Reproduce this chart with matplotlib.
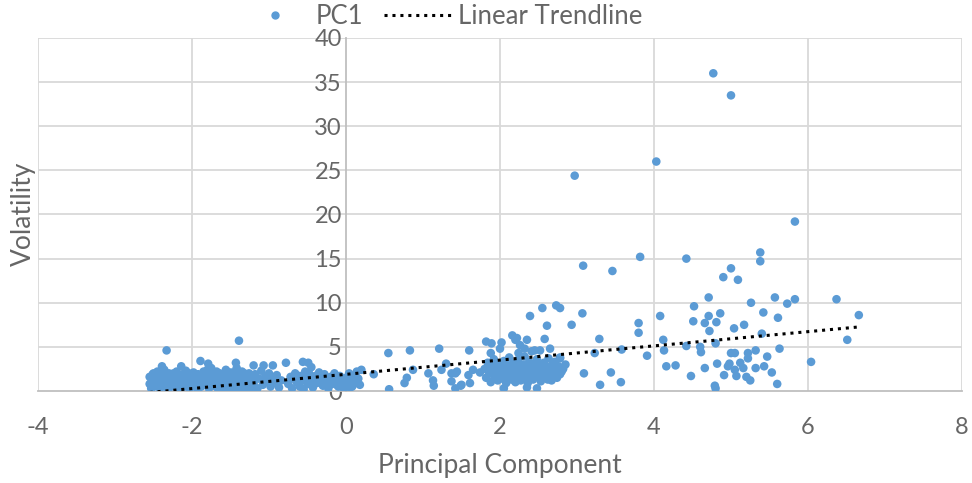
import numpy as np
import matplotlib
matplotlib.use("Agg")
import matplotlib.pyplot as plt
from matplotlib.lines import Line2D

# ---- data (principal component, volatility) ----
left_pts = [(-2.55,1.6),(-2.55,0.8),(-2.52,1.2),(-2.5,2.0),(-2.5,0.5),(-2.48,1.5),(-2.45,1.0),(-2.45,2.2),
    (-2.42,0.3),(-2.4,1.8),(-2.4,1.3),(-2.38,0.7),(-2.36,2.4),(-2.35,1.0),(-2.33,1.6),(-2.32,0.2),(-2.3,2.0),
    (-2.3,1.2),(-2.28,0.6),(-2.26,1.8),(-2.25,1.4),(-2.22,0.9),(-2.2,2.2),(-2.2,0.4),(-2.18,1.6),(-2.16,1.1),
    (-2.15,0.2),(-2.12,1.9),(-2.1,0.7),(-2.1,1.4),(-2.08,2.3),(-2.05,1.0),(-2.03,0.3),(-2.02,1.7),(-2.0,1.3),
    (-1.98,2.1),(-1.97,0.6),(-1.95,1.5),(-1.93,0.2),(-1.92,1.9),(-1.9,1.1),
    (-2.33,4.6),(-2.39,2.8),(-2.14,2.8),(-1.89,3.4),(-1.79,3.1),(-1.75,2.6),(-1.43,3.2),(-1.39,5.7),
    (-1.88,0.5),(-1.86,1.6),(-1.85,2.2),(-1.83,0.9),(-1.8,1.4),(-1.8,2.4),(-1.78,0.3),(-1.76,1.9),(-1.74,1.1),
    (-1.72,0.6),(-1.7,1.7),(-1.68,2.2),(-1.66,0.2),(-1.65,1.3),(-1.63,0.8),(-1.6,1.9),(-1.6,0.4),(-1.58,1.5),
    (-1.56,2.4),(-1.55,1.0),(-1.53,0.2),(-1.52,1.8),(-1.5,1.2),(-1.48,0.6),(-1.47,2.1),(-1.45,1.5),(-1.44,0.3),
    (-1.42,2.6),(-1.4,1.0),(-1.38,1.8),(-1.36,0.5),(-1.35,2.2),(-1.33,1.3),(-1.31,0.2),(-1.3,1.7),(-1.28,0.8),
    (-1.26,2.0),(-1.25,1.2),(-1.23,0.4),(-1.22,1.6),(-1.2,2.9),(-1.07,2.9),(-0.95,2.9),
    (-1.2,0.9),(-1.18,1.9),(-1.15,0.3),(-1.13,1.4),(-1.1,2.3),(-1.08,0.7),(-1.05,1.6),(-1.03,1.1),(-1.0,2.0),
    (-0.98,0.5),(-0.96,1.4),(-0.93,0.9),(-0.9,1.8),(-0.87,0.4),(-0.84,1.2)]

left_fill_pts = [(-2.53,0.3),(-2.51,1.9),(-2.47,0.9),(-2.44,1.6),(-2.41,0.5),(-2.37,1.2),(-2.34,2.0),
    (-2.29,0.4),(-2.27,1.0),(-2.24,2.0),(-2.21,1.3),(-2.17,0.7),(-2.14,1.8),(-2.11,1.0),(-2.07,0.5),
    (-2.04,2.0),(-2.01,0.9),(-1.96,1.8),(-1.94,1.0),(-1.91,0.4),(-1.87,1.3),(-1.84,1.9),(-1.81,0.7),
    (-1.77,1.5),(-1.73,2.0),(-1.69,0.9),(-1.67,1.5),(-1.64,2.0),(-1.61,1.1),(-1.57,0.6),(-1.54,1.4),
    (-1.51,2.1),(-1.49,0.9),(-1.46,1.8),(-1.43,1.1),(-1.39,0.4),(-1.37,1.4),(-1.34,0.9),(-1.32,2.0),
    (-1.29,1.1),(-1.27,0.5),(-1.24,1.8),(-1.21,1.2)]

center_pts = [(-0.78,3.2),(-0.56,3.3),(-0.49,3.2),(-0.45,2.7),(-0.53,2.2),(-0.68,1.4),
    (-0.75,0.8),(-0.72,1.6),(-0.7,0.3),(-0.66,2.0),(-0.64,1.0),(-0.6,0.5),(-0.6,1.7),(-0.57,1.2),(-0.55,0.2),
    (-0.52,1.5),(-0.5,0.8),(-0.48,2.0),(-0.45,1.2),(-0.43,0.4),(-0.4,1.7),(-0.38,0.9),(-0.35,2.1),(-0.33,1.4),
    (-0.3,0.6),(-0.28,1.9),(-0.26,1.1),(-0.23,0.3),(-0.2,1.6),(-0.18,0.8),(-0.15,2.0),(-0.13,1.2),(-0.1,0.5),
    (-0.08,1.7),(-0.05,1.0),(-0.03,0.3),(0.0,1.5),(0.02,0.8),(0.04,2.0),(0.06,1.2),(0.08,0.5),(0.1,1.7),
    (0.12,1.0),(0.14,2.2),(0.16,1.4),(0.18,0.7),(0.2,2.4),(0.36,1.9),
    (-0.42,1.0),(-0.32,0.9),(-0.22,1.3),(-0.12,0.7),(-0.02,1.2),(0.05,0.4),(0.11,1.3),(0.15,0.9),
    (0.55,4.3),(0.83,4.6),(1.21,4.8),(1.6,4.6),(0.56,0.2),(0.87,2.4),(0.79,1.5),(0.76,0.9),(1.07,2.0),
    (1.13,1.2),(1.14,0.6),(1.24,2.4),(1.3,3.1),(1.37,2.0),(1.44,2.2),(1.37,1.1),(1.42,0.3),(1.5,0.7),
    (1.59,1.8),(1.65,2.4),(1.74,2.1),(1.42,2.0),(1.61,0.9),(1.49,0.6)]

mid_pts = [(2.55,9.4),(2.73,9.7),(2.78,9.4),(2.39,8.5),(2.93,7.5),(2.61,7.4),(2.58,5.9),(2.16,6.3),(2.2,5.8),
    (1.82,5.6),(1.89,5.4),(2.02,5.5),(2.0,4.8),(2.35,5.8),(2.26,5.2),(2.52,4.6),(2.65,4.8),(1.88,4.3),(2.24,4.3),
    (2.41,4.5),(2.78,3.7),(2.8,2.2),(2.05,0.3),(2.35,0.4),(2.48,0.3),(2.67,1.2),(2.22,6.0),(2.32,4.8),(2.45,4.6),
    (1.8,2.5),(1.82,1.5),(1.84,3.2),(1.86,2.0),(1.88,1.0),(1.9,2.8),(1.92,3.6),(1.93,1.6),(1.95,2.3),(1.97,1.2),
    (1.98,3.0),(2.0,1.9),(2.02,2.6),(2.03,1.4),(2.05,3.4),(2.06,2.1),(2.08,0.9),(2.1,2.9),(2.1,1.7),(2.12,3.8),
    (2.14,2.4),(2.15,1.3),(2.17,3.1),(2.18,2.0),(2.2,1.0),(2.21,2.7),(2.23,3.5),(2.24,1.6),(2.26,2.3),(2.27,1.2),
    (2.29,3.0),(2.3,2.0),(2.32,3.9),(2.33,1.5),(2.35,2.6),(2.36,0.9),(2.38,3.3),(2.4,1.9),(2.41,2.5),(2.43,1.3),
    (2.45,3.0),(2.46,2.1),(2.48,3.6),(2.5,1.6),(2.51,2.8),(2.53,1.1),(2.55,2.3),(2.57,3.2),(2.58,1.8),(2.6,2.6),
    (2.62,1.3),(2.63,3.7),(2.65,2.1),(2.67,2.9),(2.69,1.7),(2.71,3.3),(2.72,2.4),(2.74,1.5),(2.76,2.8),(2.78,1.9),
    (2.82,2.5),(2.85,3.0),
    (1.85,2.6),(1.91,1.9),(1.96,2.6),(2.01,2.2),(2.07,1.6),(2.13,2.0),(2.19,2.4),(2.25,1.9),(2.31,2.3),
    (2.37,1.8),(2.42,2.1),(2.47,2.6),(2.52,2.0),(2.59,2.2),(2.64,1.7),(2.7,2.1),(2.75,2.4)]

right_pts = [(2.97,24.4),(3.08,14.2),(3.46,13.6),(3.07,8.8),(3.29,5.9),(2.78,3.8),(3.23,4.3),(3.58,4.7),
    (3.09,2.0),(3.44,2.1),(3.3,0.7),(3.57,1.0),(3.82,15.2),(3.8,7.7),(3.8,6.6),(3.91,4.0),(4.03,26.0),(4.08,8.5),
    (4.12,5.8),(4.13,4.6),
    (4.77,36.0),(5.0,33.5),(5.83,19.2),(4.42,15.0),(5.38,15.7),(5.38,14.7),(5.0,13.9),(4.9,12.9),(5.09,12.6),
    (4.71,10.6),(4.52,9.6),(5.26,10.0),(5.57,10.6),(5.73,9.9),(5.83,10.4),(6.37,10.4),(6.66,8.6),(6.51,5.8),
    (6.04,3.3),(4.51,7.9),(4.71,8.5),(4.66,7.7),(4.81,7.8),(4.86,8.8),(4.72,6.8),(5.04,7.1),(5.17,7.5),(5.42,8.9),
    (5.61,8.3),(5.4,6.5),(4.42,5.1),(4.6,5.0),(4.61,4.4),(4.8,5.4),(5.0,4.3),(5.05,4.3),(5.22,4.3),(5.32,4.6),
    (5.22,3.7),(5.47,3.9),(5.63,4.8),(4.16,2.8),(4.28,2.9),(4.48,1.7),(4.66,2.6),(4.82,3.1),(4.91,1.8),(4.96,2.8),
    (4.98,3.1),(5.05,2.4),(5.07,1.7),(5.12,3.2),(5.16,2.6),(5.2,1.6),(5.25,1.2),(5.32,2.6),(5.43,2.8),(5.53,2.1),
    (5.6,0.8),(4.8,0.3),(4.79,0.6)]

# linear trendline (slope, intercept) as shown on the chart
trend_slope = 0.806
trend_intercept = 1.89

x_ticks = [-4, -2, 0, 2, 4, 6, 8]
y_ticks = [0, 5, 10, 15, 20, 25, 30, 35, 40]

pts = np.array(left_pts + left_fill_pts + center_pts + mid_pts + right_pts)
pc, vol = pts[:, 0], pts[:, 1]

BLUE = "#5B9BD5"
GRID = "#D9D9D9"
TXT = "#666666"
plt.rcParams["font.family"] = ["Lato", "DejaVu Sans"]
plt.rcParams["axes.unicode_minus"] = False

fig = plt.figure(figsize=(9.72, 4.83), dpi=100)
ax = fig.add_axes([38/972, (483-391)/483, (962-38)/972, (391-38)/483])

ax.scatter(pc, vol, s=38, color=BLUE, edgecolors="none", zorder=3)

xt = np.array([pc.min(), pc.max()])
ax.plot(xt, trend_slope*xt + trend_intercept, color="black", lw=2.2,
        linestyle=(0, (1, 1.6)), zorder=4)

ax.set_xlim(-4, 8)
ax.set_ylim(0, 40)
ax.set_xticks(x_ticks)
ax.set_yticks(y_ticks)
for v in x_ticks:
    if v != 0:
        ax.axvline(v, color=GRID, lw=1.3, zorder=1)
for v in y_ticks[1:]:
    ax.axhline(v, color=GRID, lw=1.3, zorder=1)

for s in ["top", "right"]:
    ax.spines[s].set_visible(False)
ax.spines["left"].set_position(("data", 0))
for s in ["left", "bottom"]:
    ax.spines[s].set_color("#BFBFBF")
    ax.spines[s].set_linewidth(1.3)
ax.tick_params(axis="both", length=0, labelsize=17, labelcolor=TXT)
ax.tick_params(axis="x", pad=19)
ax.tick_params(axis="y", pad=3)

fig.text(500/972, 1 - 466/483, "Principal Component", ha="center", va="center",
         fontsize=19, color=TXT)
fig.text(23/972, 1 - 214/483, "Volatility", ha="center", va="center", rotation=90,
         fontsize=19, color=TXT)

handles = [Line2D([], [], marker="o", ls="none", color=BLUE, markersize=5),
           Line2D([], [], color="black", lw=2.2, linestyle=(0, (1, 1.6)))]
leg = fig.legend(handles, ["PC1", "Linear Trendline"], loc="center", ncol=2,
                 bbox_to_anchor=(442/972, 1 - 16/483), frameon=False, fontsize=18.5,
                 handlelength=2.6, columnspacing=0.8, handletextpad=0.3,
                 borderpad=0.1)
for t in leg.get_texts():
    t.set_color(TXT)

fig.savefig("out.png", dpi=100)
